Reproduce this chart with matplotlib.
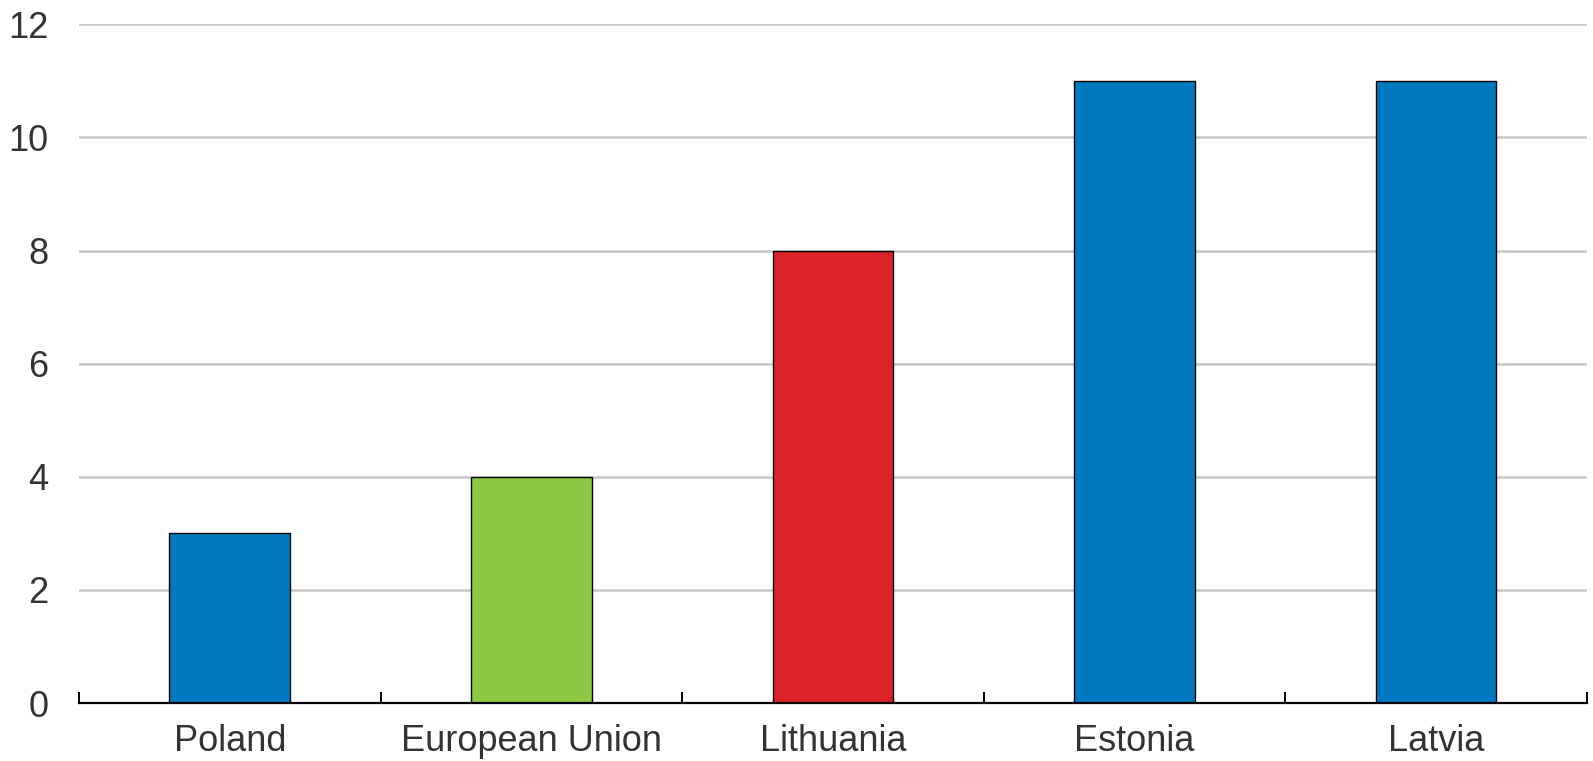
import matplotlib
matplotlib.use("Agg")
import matplotlib.pyplot as plt
from matplotlib.ticker import FixedLocator

countries = ["Poland", "European Union", "Lithuania", "Estonia", "Latvia"]
values = [3, 4, 8, 11, 11]
colors = ["#0179C0", "#8CC841", "#DA2128", "#0179C0", "#0179C0"]
yticks = [0, 2, 4, 6, 8, 10, 12]

plt.rcParams['font.family'] = ['Liberation Sans Narrow', 'Liberation Sans', 'DejaVu Sans']

fig = plt.figure(figsize=(15.93, 7.61), dpi=100)
ax = fig.add_axes([0.0496, 0.0762, 0.9466, 0.8918])

x = range(len(countries))
ax.bar(x, values, width=0.4, color=colors, edgecolor="black", linewidth=1.0, zorder=3)

ax.set_xlim(-0.5, len(countries) - 0.5)
ax.set_ylim(0, 12)
ax.set_yticks(yticks)
ax.set_xticks(list(x))
ax.set_xticklabels(countries)
ax.xaxis.set_minor_locator(FixedLocator([i - 0.5 for i in range(len(countries) + 1)]))

ax.yaxis.grid(True, color="#C8C8C8", linewidth=1.8, zorder=0)
ax.set_axisbelow(True)

for side in ["top", "right", "left"]:
    ax.spines[side].set_visible(False)
ax.spines["bottom"].set_linewidth(1.6)
ax.spines["bottom"].set_zorder(4)

ax.tick_params(axis="y", length=0, pad=22, labelsize=26, labelcolor="#333333")
ax.tick_params(axis="x", which="major", length=0, pad=15, labelsize=26, labelcolor="#333333")
ax.tick_params(axis="x", which="minor", direction="in", length=8, width=1.4, color="black")

fig.savefig("out.png", dpi=100)
